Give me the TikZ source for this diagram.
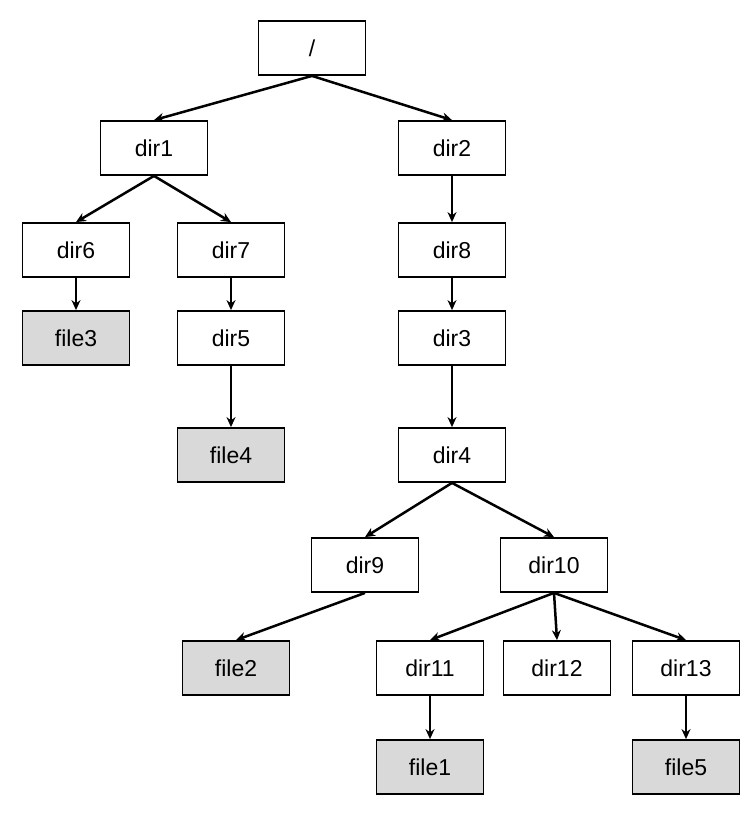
\documentclass[tikz,border=0pt]{standalone}
\usepackage{fontspec}
\setmainfont{Liberation Sans}
\usetikzlibrary{arrows.meta}
\begin{document}
\begin{tikzpicture}[x=1pt,y=-1pt,
  b/.style={draw,line width=1.8pt,minimum width=107pt,minimum height=54pt,inner sep=0pt,font=\fontsize{23}{27}\selectfont},
  f/.style={b,fill=black!15},
  a/.style={line width=2.5pt,-{Stealth[length=10pt,width=9pt]}}]
\useasboundingbox (0,0) rectangle (750,818);
\node[b] (r) at (312,48) {/};
\node[b] (d1) at (154,148) {dir1};
\node[b] (d2) at (452,148) {dir2};
\node[b] (d6) at (76,250) {dir6};
\node[b] (d7) at (231,250) {dir7};
\node[b] (d8) at (452,250) {dir8};
\node[f] (f3) at (76,338) {file3};
\node[b] (d5) at (231,338) {dir5};
\node[b] (d3) at (452,338) {dir3};
\node[f] (f4) at (231,455) {file4};
\node[b] (d4) at (452,455) {dir4};
\node[b] (d9) at (365,565) {dir9};
\node[b] (d10) at (554,565) {dir10};
\node[f] (f2) at (236,668) {file2};
\node[b] (d11) at (430,668) {dir11};
\node[b] (d12) at (557,668) {dir12};
\node[b] (d13) at (686,668) {dir13};
\node[f] (f1) at (430,767) {file1};
\node[f] (f5) at (686,767) {file5};
\foreach \p/\c in {r/d1,r/d2,d1/d6,d1/d7,d2/d8,d6/f3,d7/d5,d8/d3,d5/f4,d3/d4,d4/d9,d4/d10,d9/f2,d10/d11,d10/d12,d10/d13,d11/f1,d13/f5}
  \draw[a] (\p.south) -- (\c.north);
\end{tikzpicture}
\end{document}
